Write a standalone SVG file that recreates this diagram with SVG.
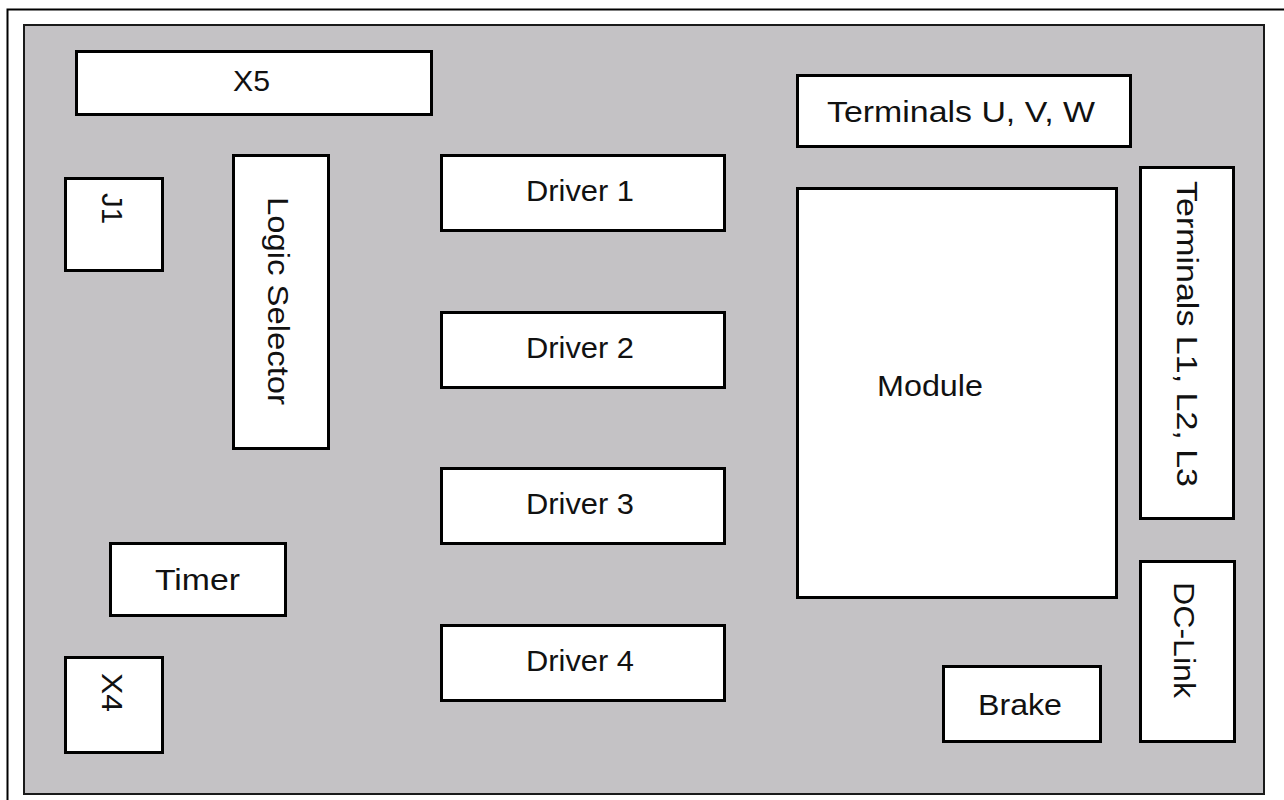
<svg xmlns="http://www.w3.org/2000/svg" width="1284" height="800" viewBox="0 0 1284 800">
<style>
.frame{fill:#ffffff;stroke:#000;stroke-width:2}
.board{fill:#c4c2c5;stroke:#1a1a1a;stroke-width:2}
.box{fill:#ffffff;stroke:#000;stroke-width:3}
.lbl{font-family:"Liberation Sans",Arial,sans-serif;font-size:29px;fill:#111}
</style>
<rect x="0" y="0" width="1284" height="800" fill="#ffffff"/>
<rect class="frame" x="7.5" y="9.5" width="1300" height="820"/>
<rect class="board" x="24" y="25" width="1240" height="769"/>
<g id="connectors"></g>
<g id="x5"><rect class="box" x="76.5" y="51.5" width="355" height="63"/><text class="lbl" x="233" y="91" textLength="37" lengthAdjust="spacingAndGlyphs">X5</text></g>
<g id="j1"><rect class="box" x="65.5" y="178.5" width="97" height="92"/><text class="lbl" transform="translate(102,193) rotate(90)" textLength="31" lengthAdjust="spacingAndGlyphs">J1</text></g>
<g id="logic-selector"><rect class="box" x="233.5" y="155.5" width="95" height="293"/><text class="lbl" transform="translate(268,197) rotate(90)" textLength="208" lengthAdjust="spacingAndGlyphs">Logic Selector</text></g>
<g id="driver1"><rect class="box" x="441.5" y="155.5" width="283" height="75"/><text class="lbl" x="526" y="201" textLength="108" lengthAdjust="spacingAndGlyphs">Driver 1</text></g>
<g id="driver2"><rect class="box" x="441.5" y="312.5" width="283" height="75"/><text class="lbl" x="526" y="358" textLength="108" lengthAdjust="spacingAndGlyphs">Driver 2</text></g>
<g id="driver3"><rect class="box" x="441.5" y="468.5" width="283" height="75"/><text class="lbl" x="526" y="514" textLength="108" lengthAdjust="spacingAndGlyphs">Driver 3</text></g>
<g id="driver4"><rect class="box" x="441.5" y="625.5" width="283" height="75"/><text class="lbl" x="526" y="671" textLength="108" lengthAdjust="spacingAndGlyphs">Driver 4</text></g>
<g id="terminals-uvw"><rect class="box" x="797.5" y="75.5" width="333" height="71"/><text class="lbl" x="827" y="122" textLength="268" lengthAdjust="spacingAndGlyphs">Terminals U, V, W</text></g>
<g id="module"><rect class="box" x="797.5" y="188.5" width="319" height="409"/><text class="lbl" x="877" y="396" textLength="106" lengthAdjust="spacingAndGlyphs">Module</text></g>
<g id="terminals-l"><rect class="box" x="1140.5" y="167.5" width="93" height="351"/><text class="lbl" transform="translate(1177,181) rotate(90)" textLength="306" lengthAdjust="spacingAndGlyphs">Terminals L1, L2, L3</text></g>
<g id="dc-link"><rect class="box" x="1140.5" y="561.5" width="94" height="180"/><text class="lbl" transform="translate(1174,582) rotate(90)" textLength="116" lengthAdjust="spacingAndGlyphs">DC-Link</text></g>
<g id="timer"><rect class="box" x="110.5" y="543.5" width="175" height="72"/><text class="lbl" x="155" y="590" textLength="85" lengthAdjust="spacingAndGlyphs">Timer</text></g>
<g id="x4"><rect class="box" x="65.5" y="657.5" width="97" height="95"/><text class="lbl" transform="translate(102,673) rotate(90)" textLength="39" lengthAdjust="spacingAndGlyphs">X4</text></g>
<g id="brake"><rect class="box" x="943.5" y="666.5" width="157" height="75"/><text class="lbl" x="978" y="715" textLength="84" lengthAdjust="spacingAndGlyphs">Brake</text></g>
</svg>
